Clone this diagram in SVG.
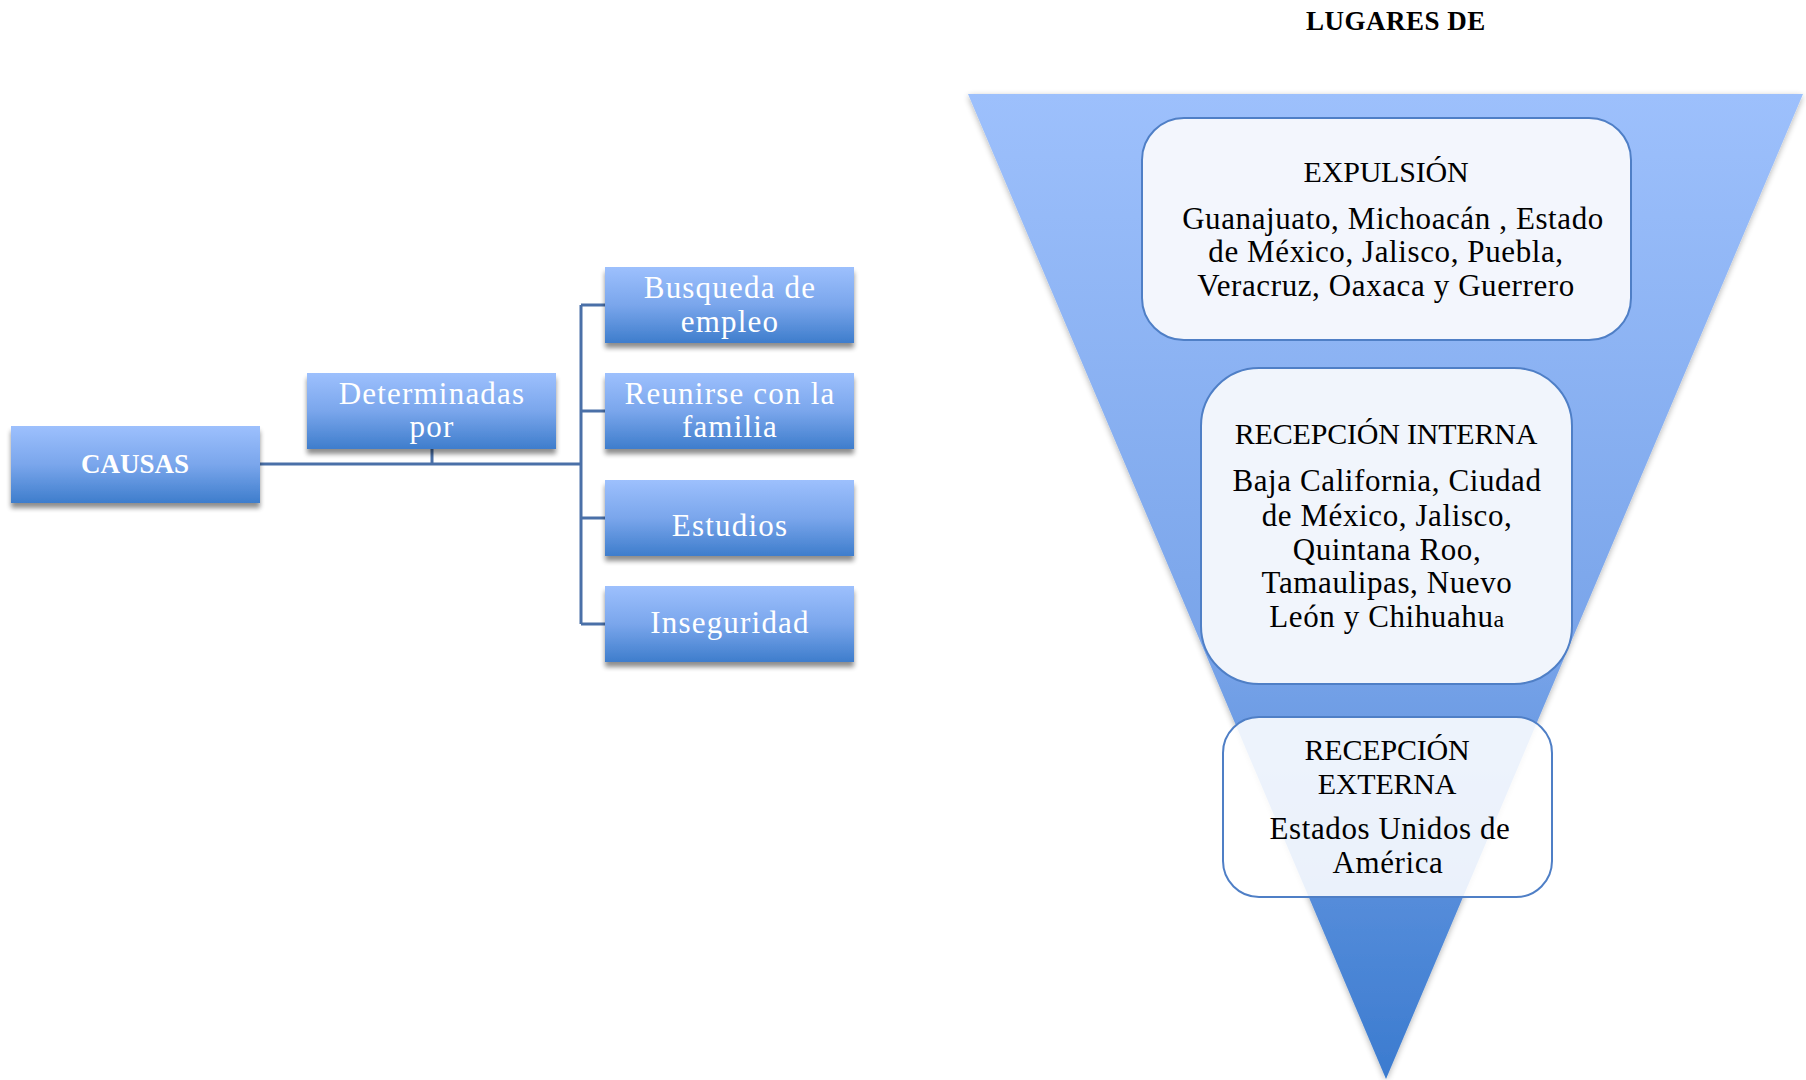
<svg xmlns="http://www.w3.org/2000/svg" width="1806" height="1080" viewBox="0 0 1806 1080">
<defs>
<linearGradient id="boxGrad" x1="0" y1="0" x2="0" y2="1">
<stop offset="0" stop-color="#9dc0fd"/>
<stop offset="0.5" stop-color="#7aa6ec"/>
<stop offset="1" stop-color="#3e7dcc"/>
</linearGradient>
<linearGradient id="triGrad" x1="0" y1="0" x2="0" y2="1">
<stop offset="0" stop-color="#9dc0fc"/>
<stop offset="0.55" stop-color="#7aa5ea"/>
<stop offset="1" stop-color="#3b7bcf"/>
</linearGradient>
<filter id="shadow" x="-10%" y="-10%" width="120%" height="140%">
<feGaussianBlur in="SourceAlpha" stdDeviation="2.5"/>
<feOffset dx="0" dy="5" result="o"/>
<feComponentTransfer><feFuncA type="linear" slope="0.45"/></feComponentTransfer>
<feMerge><feMergeNode/><feMergeNode in="SourceGraphic"/></feMerge>
</filter>
<filter id="soft" x="-5%" y="-5%" width="110%" height="110%">
<feGaussianBlur in="SourceAlpha" stdDeviation="3"/>
<feOffset dx="0" dy="2"/>
<feComponentTransfer><feFuncA type="linear" slope="0.3"/></feComponentTransfer>
<feMerge><feMergeNode/><feMergeNode in="SourceGraphic"/></feMerge>
</filter>
</defs>
<style>
.box{fill:url(#boxGrad);filter:url(#shadow);}
.wt{font-family:"Liberation Serif",serif;font-size:31px;fill:#ffffff;text-anchor:middle;letter-spacing:1.2px;}
.ct{font-family:"Liberation Serif",serif;font-size:27px;font-weight:bold;fill:#ffffff;text-anchor:middle;letter-spacing:0;}
.bt{font-family:"Liberation Serif",serif;font-size:31px;fill:#000000;text-anchor:middle;letter-spacing:0.6px;}
.cap{font-size:30px;letter-spacing:-0.2px;}
.card{stroke:#4f7fc6;stroke-width:2;}
.con{fill:none;stroke:#4a70a8;stroke-width:3;}
</style>
<rect width="1806" height="1080" fill="#ffffff"/>

<g id="connectors">
<path class="con" d="M259 464 H581"/>
<path class="con" d="M432 449 V464"/>
<path class="con" d="M581 305 V624"/>
<path class="con" d="M581 305 H606 M581 411 H606 M581 518 H606 M581 624 H606"/>
</g>

<g id="node-causas">
<rect class="box" x="11" y="426" width="249" height="77"/>
<text class="ct" x="135" y="473">CAUSAS</text>
</g>
<g id="node-determinadas">
<rect class="box" x="307" y="373" width="249" height="76"/>
<text class="wt" x="432" y="404">Determinadas</text>
<text class="wt" x="432" y="437">por</text>
</g>
<g id="node-busqueda">
<rect class="box" x="605" y="267" width="249" height="76"/>
<text class="wt" x="730" y="298">Busqueda de</text>
<text class="wt" x="730" y="332">empleo</text>
</g>
<g id="node-reunirse">
<rect class="box" x="605" y="373" width="249" height="76"/>
<text class="wt" x="730" y="404">Reunirse con la</text>
<text class="wt" x="730" y="437">familia</text>
</g>
<g id="node-estudios">
<rect class="box" x="605" y="480" width="249" height="76"/>
<text class="wt" x="730" y="536">Estudios</text>
</g>
<g id="node-inseguridad">
<rect class="box" x="605" y="586" width="249" height="76"/>
<text class="wt" x="730" y="633">Inseguridad</text>
</g>

<g id="title">
<text x="1396" y="30" font-family="Liberation Serif, serif" font-size="27" font-weight="bold" text-anchor="middle" fill="#000" letter-spacing="0.5">LUGARES DE</text>
</g>

<g id="funnel">
<polygon points="968,94 1803,94 1386,1079" fill="url(#triGrad)" filter="url(#soft)"/>
</g>

<g id="node-expulsion">
<rect class="card" x="1142" y="118" width="489" height="222" rx="42" ry="42" fill="#f3f6fd"/>
<text class="bt cap" x="1386" y="182">EXPULSIÓN</text>
<text class="bt" x="1393" y="229">Guanajuato, Michoacán , Estado</text>
<text class="bt" x="1386" y="262">de México, Jalisco, Puebla,</text>
<text class="bt" x="1386" y="296">Veracruz, Oaxaca y Guerrero</text>
</g>

<g id="node-interna">
<rect class="card" x="1201" y="368" width="371" height="316" rx="58" ry="58" fill="#f1f5fc"/>
<text class="bt cap" x="1386" y="444">RECEPCIÓN INTERNA</text>
<text class="bt" x="1387" y="491">Baja California, Ciudad</text>
<text class="bt" x="1387" y="526">de México, Jalisco,</text>
<text class="bt" x="1387" y="560">Quintana Roo,</text>
<text class="bt" x="1387" y="593">Tamaulipas, Nuevo</text>
<text class="bt" x="1387" y="627">León y Chihuahu<tspan font-size="24">a</tspan></text>
</g>

<g id="node-externa">
<rect class="card" x="1223" y="717" width="329" height="180" rx="36" ry="36" fill="#ffffff" fill-opacity="0.88"/>
<text class="bt cap" x="1387" y="760">RECEPCIÓN</text>
<text class="bt cap" x="1387" y="794">EXTERNA</text>
<text class="bt" x="1390" y="839">Estados Unidos de</text>
<text class="bt" x="1388" y="873">América</text>
</g>
</svg>
